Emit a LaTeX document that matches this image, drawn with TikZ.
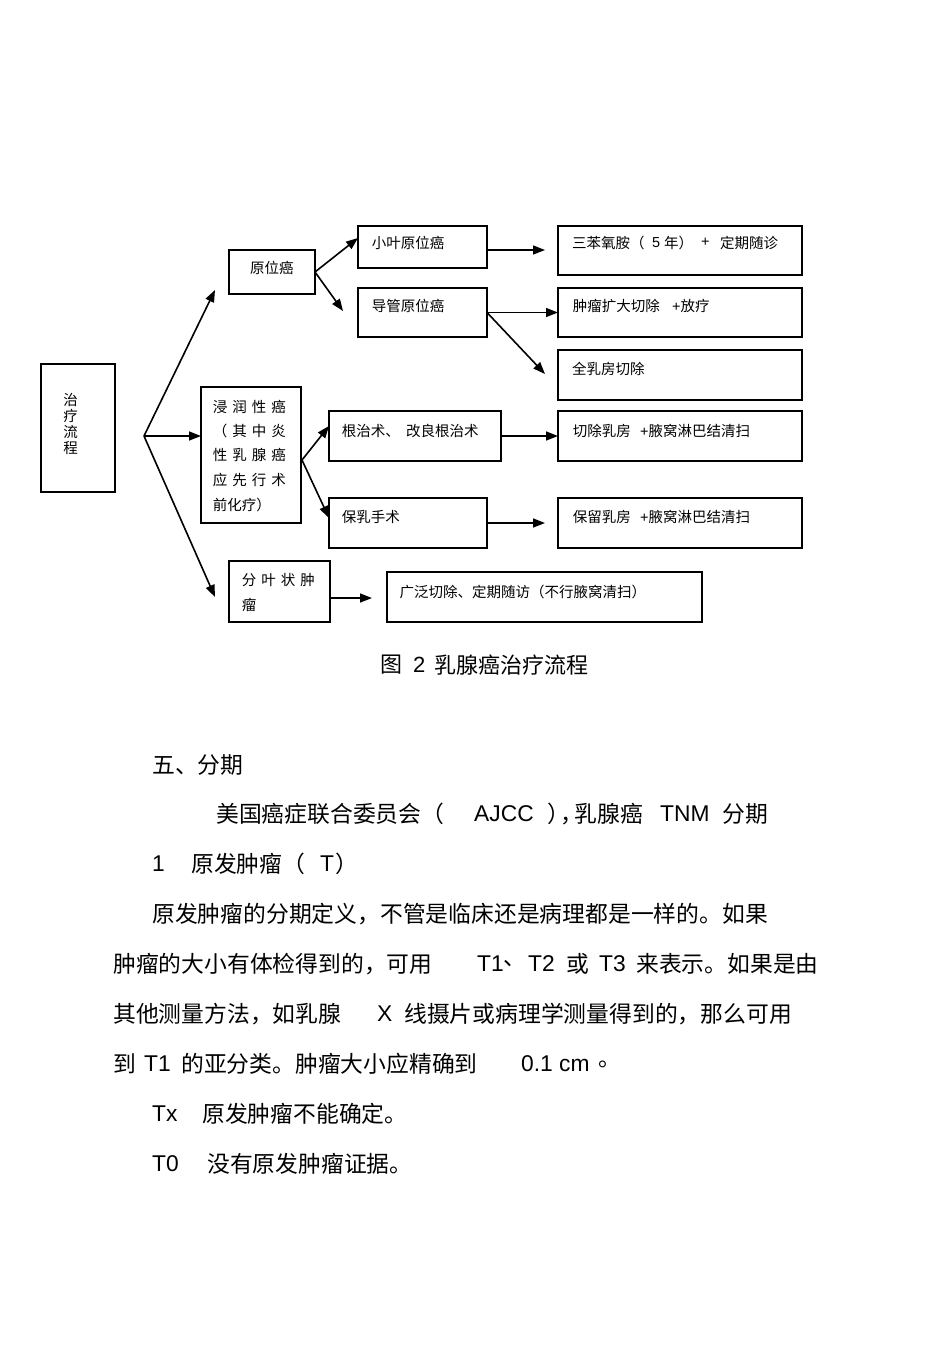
\documentclass[tikz,border=0pt]{standalone}
\usepackage{fontspec}
\setmainfont{Noto Sans CJK SC}
\newfontfamily\lat{Liberation Sans}
\usetikzlibrary{arrows.meta,calc}
\newcommand{\chsp}{\hspace{5pt}}
\begin{document}
\begin{tikzpicture}[x=1pt,y=-1pt,
  box/.style={draw,line width=1.3pt,inner sep=0pt,outer sep=0pt,anchor=north west},
  dt/.style={anchor=west,inner sep=0pt,font=\fontsize{14.5}{16}\selectfont},
  bt/.style={anchor=west,inner sep=0pt,font=\fontsize{22.8}{26}\selectfont},
  ct/.style={anchor=west,inner sep=0pt,font=\fontsize{22}{26}\selectfont},
  arr/.style={line width=1.6pt,-{Triangle[length=12pt,width=9pt]}}]
\fill[white] (0,0) rectangle (950,1346);
\useasboundingbox (0,0) rectangle (950,1346);
% ---------- boxes ----------
\node[box,minimum width=74pt,minimum height=128pt] (zl) at (41,364) {};
\node[box,minimum width=86pt,minimum height=44pt] (yw) at (229,250) {};
\node[box,minimum width=100pt,minimum height=136pt] (jr) at (201,387) {};
\node[box,minimum width=101pt,minimum height=61pt] (fy) at (229,561) {};
\node[box,minimum width=129pt,minimum height=42pt] (xy) at (358,226) {};
\node[box,minimum width=129pt,minimum height=49pt] (dg) at (358,288) {};
\node[box,minimum width=172pt,minimum height=50pt] (gz) at (329,411) {};
\node[box,minimum width=158pt,minimum height=50pt] (br) at (329,498) {};
\node[box,minimum width=244pt,minimum height=49pt] (sb) at (558,226) {};
\node[box,minimum width=244pt,minimum height=49pt] (zk) at (558,288) {};
\node[box,minimum width=244pt,minimum height=50pt] (qr) at (558,350) {};
\node[box,minimum width=244pt,minimum height=50pt] (qc) at (558,411) {};
\node[box,minimum width=244pt,minimum height=50pt] (bl) at (558,498) {};
\node[box,minimum width=315pt,minimum height=50pt] (gf) at (387,572) {};
\foreach \n in {sb,zk,qr,qc,bl}
  \draw[line width=2pt] (\n.north east) -- (\n.south east) -- (\n.south west);
% ---------- box texts ----------
\node[anchor=center,inner sep=0pt,align=center,font=\fontsize{14.5}{16.2}\selectfont] (zlt) at (70.5,424) {治\\疗\\流\\程};
\node[dt] (ywt) at (250,268) {原位癌};
\node[dt] (jr1) at (212.7,406.7) {浸\chsp 润\chsp 性\chsp 癌};
\node[dt] (jr2) at (212.7,430.7) {（\chsp 其\chsp 中\chsp 炎};
\node[dt] (jr3) at (212.7,455) {性\chsp 乳\chsp 腺\chsp 癌};
\node[dt] (jr4) at (212.7,480) {应\chsp 先\chsp 行\chsp 术};
\node[dt] (jr5) at (212.7,505) {前化疗）};
\node[dt] (fy1) at (241.7,580) {分\chsp 叶\chsp 状\chsp 肿};
\node[dt] (fy2) at (241.7,605) {瘤};
\node[dt] (xyt) at (371.7,242.5) {小叶原位癌};
\node[dt] (dgt) at (371.7,306) {导管原位癌};
\node[dt] (gzt1) at (341.7,430.7) {根治术、};
\node[dt] (gzt2) at (406,430.7) {改良根治术};
\node[dt] (brt) at (341.7,516.7) {保乳手术};
\node[dt] (sbt1) at (572,242.5) {三苯氧胺（};
\node[dt] (sbt2) at (652,242.5) {\lat 5};
\node[dt] (sbt3) at (664,242.5) {年）};
\node[dt] (sbt4) at (701,242.5) {\lat +};
\node[dt] (sbt5) at (720,242.5) {定期随诊};
\node[dt] (zkt1) at (572.7,306) {肿瘤扩大切除};
\node[dt] (zkt2) at (672,306) {{\lat +}放疗};
\node[dt] (qrt) at (572,369) {全乳房切除};
\node[dt] (qct1) at (572.7,430.7) {切除乳房};
\node[dt] (qct2) at (640,430.7) {{\lat +}腋窝淋巴结清扫};
\node[dt] (blt1) at (572.7,516.7) {保留乳房};
\node[dt] (blt2) at (640,516.7) {{\lat +}腋窝淋巴结清扫};
\node[dt] (gft) at (399.5,591.7) {广泛切除、定期随访（不行腋窝清扫）};
% ---------- connectors ----------
\coordinate (F) at (144,436);
\coordinate (t1) at (215,290);
\coordinate (t3) at (215,597);
\coordinate (ta) at (358,238);
\coordinate (tb) at (343,311);
\coordinate (sa) at (487,250);
\coordinate (tc) at (545,250);
\coordinate (td) at (545,374);
\coordinate (sj) at (302,460);
\coordinate (te) at (329,426);
\coordinate (tf) at (329,518);
\coordinate (tg) at (545,523);
\coordinate (sf) at (330,598);
\coordinate (th) at (372,598);
\draw[arr] (F) -- (t1);
\draw[arr] (F) -- (F -| jr.west);
\draw[arr] (F) -- (t3);
\draw[arr] (yw.east) -- (ta);
\draw[arr] (yw.east) -- (tb);
\draw[arr] (sa) -- (tc);
\draw[arr] (dg.east) -- (zk.west);
\draw[arr] (dg.east) -- (td);
\draw[arr] (sj) -- (te);
\draw[arr] (sj) -- (tf);
\draw[arr] (gz.east) -- (qc.west);
\draw[arr] (br.east) -- (tg);
\draw[arr] (sf) -- (th);
% ---------- caption ----------
\node[ct] (cap1) at (380,665) {图};
\node[ct] (cap2) at (413,665) {\lat 2};
\node[ct] (cap3) at (434,665) {乳腺癌治疗流程};
% ---------- body text ----------
\node[bt] (l1) at (152,765) {五、分期};
\node[bt] (l2a) at (216,814) {美国癌症联合委员会（};
\node[bt] (l2b) at (474,814) {\lat AJCC};
\node[bt] (l2c) at (547,814) {）\hspace{-10pt}，\hspace{-8pt}乳腺癌};
\node[bt] (l2f) at (660,814) {\lat TNM};
\node[bt] (l2g) at (722,814) {分期};
\node[bt] (l3a) at (152,864) {\lat 1};
\node[bt] (l3b) at (191,864) {原发肿瘤（};
\node[bt] (l3c) at (320,864) {\lat T};
\node[bt] (l3d) at (335,864) {）};
\node[bt] (p1) at (152,914) {原发肿瘤的分期定义，不管是临床还是病理都是一样的。如果};
\node[bt] (p2a) at (113,964) {肿瘤的大小有体检得到的，可用};
\node[bt] (p2b) at (477,964) {\lat T1};
\node[bt] (p2c) at (503,964) {、};
\node[bt] (p2d) at (528,964) {\lat T2};
\node[bt] (p2e) at (566,964) {或};
\node[bt] (p2f) at (599,964) {\lat T3};
\node[bt] (p2g) at (636,964) {来表示。如果是由};
\node[bt] (p3a) at (113,1014) {其他测量方法，如乳腺};
\node[bt] (p3b) at (377,1014) {\lat X};
\node[bt] (p3c) at (404,1014) {线摄片或病理学测量得到的，那么可用};
\node[bt] (p4a) at (113,1064) {到};
\node[bt] (p4b) at (144,1064) {\lat T1};
\node[bt] (p4c) at (181,1064) {的亚分类。肿瘤大小应精确到};
\node[bt] (p4d) at (521,1064) {\lat 0.1 cm};
\node[bt] (p4e) at (598,1064) {。};
\node[bt] (tx1) at (152,1114) {\lat Tx};
\node[bt] (tx2) at (202,1114) {原发肿瘤不能确定。};
\node[bt] (t01) at (152,1164) {\lat T0};
\node[bt] (t02) at (207,1164) {没有原发肿瘤证据。};
\end{tikzpicture}
\end{document}
